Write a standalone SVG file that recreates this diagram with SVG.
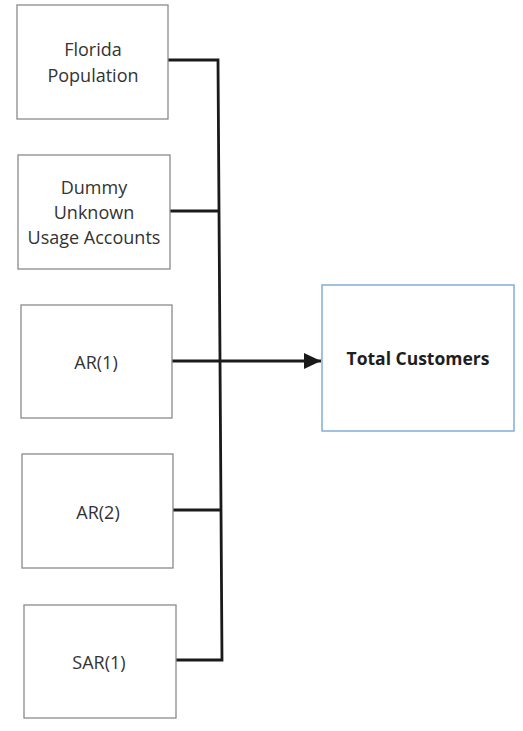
<svg xmlns="http://www.w3.org/2000/svg" width="523" height="731" viewBox="0 0 523 731">
  <style>
    .box { fill: #ffffff; stroke: #8a8a8a; stroke-width: 1.3; }
    .target { fill: #ffffff; stroke: #7aa7d6; stroke-width: 1.4; }
    .lbl { font-family: "Open Sans", "Liberation Sans", sans-serif; font-size: 18px; fill: #333333; text-anchor: middle; }
    .bold { font-weight: bold; fill: #1e1e1e; font-size: 17.5px; }
    .wire { fill: none; stroke: #1a1a1a; stroke-width: 2.8; stroke-linejoin: miter; }
  </style>
  <defs>
    <marker id="arrow" markerWidth="18" markerHeight="16" refX="17" refY="8" orient="auto" markerUnits="userSpaceOnUse">
      <path d="M0,0 L17,8 L0,16 Z" fill="#1a1a1a"/>
    </marker>
  </defs>
  <rect width="523" height="731" fill="#ffffff"/>

  <g id="connectors">
    <path class="wire" d="M168,60 L218,60 L222,660 L176,660"/>
    <line class="wire" x1="170" y1="211" x2="219" y2="211"/>
    <line class="wire" x1="173" y1="510" x2="221" y2="510"/>
    <line class="wire" x1="172" y1="361" x2="321" y2="361" marker-end="url(#arrow)"/>
  </g>

  <g id="florida-population">
    <rect class="box" x="17" y="5" width="151" height="114"/>
    <text class="lbl" x="93" y="56">Florida</text>
    <text class="lbl" x="93" y="82">Population</text>
  </g>

  <g id="dummy-unknown">
    <rect class="box" x="18" y="155" width="152" height="114"/>
    <text class="lbl" x="94" y="194">Dummy</text>
    <text class="lbl" x="94" y="219">Unknown</text>
    <text class="lbl" x="94" y="244">Usage Accounts</text>
  </g>

  <g id="ar1">
    <rect class="box" x="21" y="305" width="151" height="113"/>
    <text class="lbl" x="96" y="369">AR(1)</text>
  </g>

  <g id="ar2">
    <rect class="box" x="22" y="454" width="151" height="114"/>
    <text class="lbl" x="98" y="519">AR(2)</text>
  </g>

  <g id="sar1">
    <rect class="box" x="24" y="605" width="152" height="113"/>
    <text class="lbl" x="99" y="669">SAR(1)</text>
  </g>

  <g id="total-customers">
    <rect class="target" x="322" y="285" width="192" height="146"/>
    <text class="lbl bold" x="418" y="365">Total Customers</text>
  </g>
</svg>
